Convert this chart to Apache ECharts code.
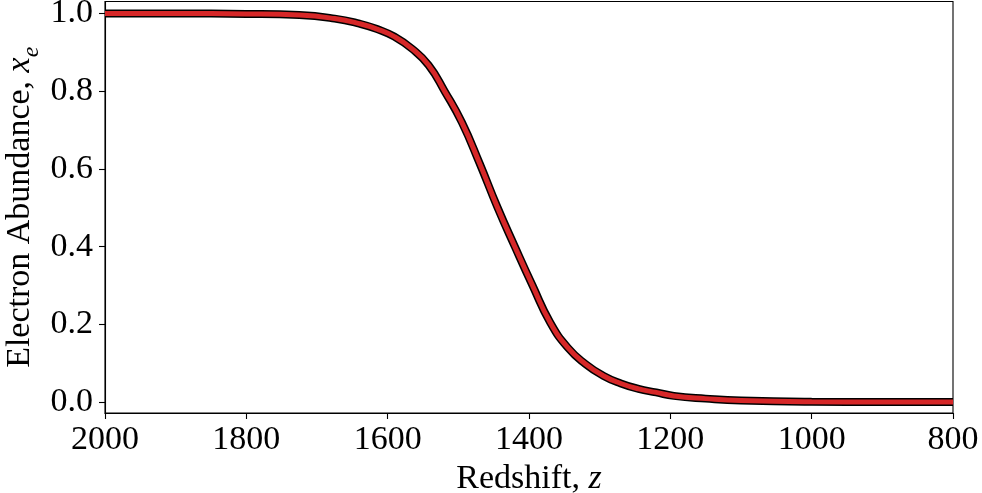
<!DOCTYPE html>
<html>
<head>
<meta charset="utf-8">
<script src="https://cdn.jsdelivr.net/npm/echarts@6/dist/echarts.min.js"></script>
<style>
  html, body { margin: 0; padding: 0; background: #fff; }
  #chart { width: 982px; height: 493px; }
</style>
</head>
<body>
<div id="chart"></div>
<script>
// Free electron fraction through the recombination epoch
const redshift = [2000, 1900, 1800, 1725, 1675, 1640, 1615, 1590, 1566, 1542, 1519,
                  1495, 1470, 1445, 1420, 1395, 1370, 1345, 1320, 1295, 1270, 1245,
                  1220, 1195, 1150, 1100, 1000, 900, 800];
const abundance = [1.000, 1.000, 0.999, 0.996, 0.987, 0.974, 0.960, 0.940, 0.910, 0.867, 0.799,
                   0.720, 0.615, 0.503, 0.400, 0.300, 0.205, 0.140, 0.098, 0.068, 0.048, 0.034,
                   0.025, 0.016, 0.009, 0.004, 0.001, 0.0005, 0.0003];
const yTicks = [0.0, 0.2, 0.4, 0.6, 0.8, 1.0];

// ascending redshift order for the spline
const points = redshift.map((z, i) => [z, abundance[i]]).sort((a, b) => a[0] - b[0]);
const serif = 'Liberation Serif';
const fs = 34;

const chart = echarts.init(document.getElementById('chart'), null, { renderer: 'canvas' });
chart.setOption({
  animation: false,
  backgroundColor: '#fff',
  textStyle: { fontFamily: serif, color: '#000' },
  grid: { left: 105, right: 29, top: 1.5, bottom: 80, show: true,
          outerBoundsMode: 'none', containLabel: false,
          borderColor: '#000', borderWidth: 1.1, backgroundColor: 'transparent' },
  xAxis: {
    type: 'value', inverse: true, min: 800, max: 2000, interval: 200,
    name: '{n|Redshift, }{i|z}',
    nameLocation: 'middle', nameGap: 48,
    nameTextStyle: { rich: {
      n: { fontFamily: serif, fontSize: fs, color: '#000' },
      i: { fontFamily: serif, fontSize: fs, fontStyle: 'italic', color: '#000' }
    } },
    axisLine: { onZero: false, lineStyle: { color: '#000', width: 1.1 } },
    axisTick: { inside: false, length: 6, lineStyle: { color: '#000', width: 1.1 } },
    axisLabel: { fontFamily: serif, fontSize: fs, color: '#000', margin: 10,
                 formatter: v => String(v) },
    splitLine: { show: false }
  },
  yAxis: {
    type: 'value', min: -0.028, max: 1.031,
    name: '{n|Electron Abundance, }{i|x}{s|e}',
    nameLocation: 'middle', nameGap: 68, nameRotate: 90, nameMoveOverlap: false,
    nameTextStyle: { rich: {
      n: { fontFamily: serif, fontSize: fs, color: '#000' },
      i: { fontFamily: serif, fontSize: fs, fontStyle: 'italic', color: '#000' },
      s: { fontFamily: serif, fontSize: 24, fontStyle: 'italic', color: '#000',
           verticalAlign: 'bottom', padding: [0, 0, -7, 0] }
    } },
    axisLine: { onZero: false, lineStyle: { color: '#000', width: 1.1 } },
    axisTick: { inside: false, length: 6, customValues: yTicks,
                lineStyle: { color: '#000', width: 1.1 } },
    axisLabel: { fontFamily: serif, fontSize: fs, color: '#000', margin: 12,
                 customValues: yTicks, formatter: v => v.toFixed(1) },
    splitLine: { show: false }
  },
  series: [
    { type: 'line', data: points, showSymbol: false, smooth: 0.5,
      lineStyle: { color: '#000', width: 8 }, silent: true, z: 2 },
    { type: 'line', data: points, showSymbol: false, smooth: 0.5,
      lineStyle: { color: '#d62728', width: 5 }, silent: true, z: 3 }
  ]
});
</script>
</body>
</html>
